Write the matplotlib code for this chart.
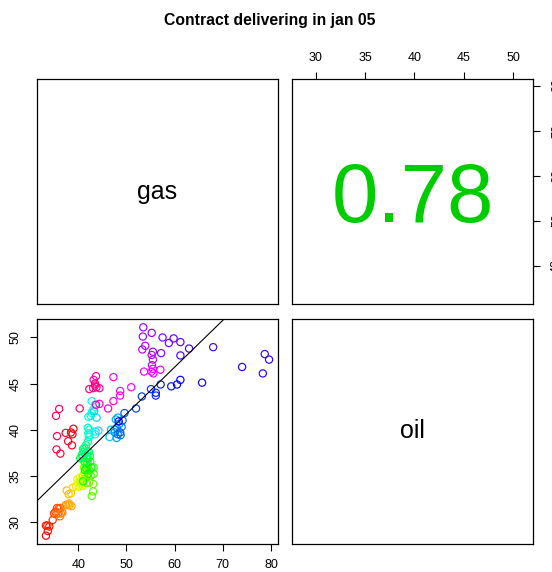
import numpy as np
import matplotlib
matplotlib.use("Agg")
import matplotlib.pyplot as plt
from matplotlib.colors import hsv_to_rgb

plt.rcParams['font.family'] = ['Liberation Sans', 'DejaVu Sans']

title = "Contract delivering in jan 05"
var_names = ["gas", "oil"]
corr_text = "0.78"

gas = [
    33.3, 33.7, 33.3, 34.0, 33.6,
    34.7, 35.0, 35.3, 35.6, 35.9, 36.3, 35.9, 35.4, 36.2,
    36.7, 36.4, 37.4, 37.8, 38.2, 38.6, 38.1,
    37.6, 38.0, 38.5, 38.9, 39.5, 39.8,
    40.0, 40.2, 40.5, 40.3, 40.8, 40.6, 40.1, 40.9, 41.1, 40.4,
    41.0, 41.3, 41.5, 41.8, 41.2, 41.5, 42.0, 41.8, 42.3, 43.1, 43.1, 42.8, 42.6, 43.2,
    43.2, 42.3, 41.9, 42.5, 41.6, 41.0, 41.4, 42.1, 42.7, 41.7, 42.0, 41.3, 42.4, 41.9,
    40.4, 40.8, 41.1, 41.3, 41.6, 41.9, 42.2, 40.9, 41.0, 41.5, 42.0, 42.2,
    42.1, 42.0, 42.3, 42.6, 42.1, 42.8, 43.0, 42.8, 43.5, 42.3,
    43.5, 43.6, 44.2, 43.8, 43.3, 46.5, 46.8, 47.5, 47.8, 48.2, 48.0,
    47.6, 48.0, 48.5, 49.0, 48.8, 48.2, 49.2, 48.7, 49.6, 52.0, 53.2, 55.1, 56.1, 56.1,
    57.1, 59.3, 60.5, 61.2, 65.7, 48.4,
    74.0, 78.3, 79.6, 78.7, 68.0,
    63.0, 61.2, 61.2, 59.8, 58.8, 57.5, 57.2, 55.25, 55.5, 53.5, 53.4, 53.9, 53.3,
    55.25, 55.5, 55.3, 55.5, 55.6, 57.05, 53.65, 55.2,
    51.0, 48.7, 48.7, 47.3, 47.3, 46.2, 44.4, 43.7, 44.4,
    43.7, 43.2, 43.5, 43.1, 42.3, 43.8, 43.5, 40.3,
    35.4, 36.05, 35.6, 35.5, 36.3, 37.4, 37.9, 38.7, 38.8, 39.0, 38.5,
]
oil = [
    28.5, 29.0, 29.6, 29.5, 29.6,
    30.2, 30.9, 31.1, 31.5, 31.4, 31.5, 31.0, 30.8, 30.6,
    31.0, 30.9, 31.8, 31.9, 31.8, 31.7, 32.0,
    33.4, 33.0, 33.1, 33.7, 33.9, 34.6,
    34.3, 34.0, 33.9, 34.8, 34.5, 34.2, 33.8, 33.9, 34.6, 34.4,
    35.0, 35.3, 34.7, 35.5, 35.9, 36.3, 36.0, 34.2, 34.3, 34.1, 33.3, 32.8, 35.0, 35.2,
    35.9, 35.6, 36.4, 36.5, 35.8, 34.4, 35.6, 35.2, 35.9, 36.9, 36.8, 36.5, 37.1, 37.2,
    36.9, 37.3, 37.6, 38.0, 38.3, 37.7, 37.6, 37.0, 37.9, 37.4, 38.7, 39.2,
    39.6, 40.2, 40.0, 41.5, 41.4, 41.8, 42.1, 43.1, 42.7, 39.4,
    39.5, 39.8, 39.9, 41.3, 42.0, 39.2, 40.0, 40.0, 41.1, 41.3, 39.1,
    39.7, 40.2, 40.6, 40.3, 39.4, 39.5, 41.0, 39.7, 41.8, 42.3, 43.6, 44.4, 43.7, 44.0,
    44.9, 44.7, 44.9, 45.4, 45.1, 40.9,
    46.8, 46.1, 47.6, 48.2, 48.95,
    48.8, 48.05, 49.5, 49.9, 49.4, 50.0, 48.3, 50.5, 48.45, 51.1, 50.1, 49.1, 48.7,
    48.1, 47.6, 47.0, 46.6, 46.1, 46.5, 46.3, 46.3,
    44.6, 44.2, 43.7, 45.7, 43.1, 42.3, 42.8, 42.7, 44.5,
    45.8, 45.4, 44.8, 44.5, 44.4, 44.6, 45.0, 42.3,
    41.5, 42.25, 39.3, 37.85, 37.4, 39.65, 38.75, 38.3, 39.5, 40.1, 39.7,
]

# fitted line: oil = intercept + slope * gas
line_intercept = [16.30]
line_slope = [0.508]

gas_ticks = [40, 50, 60, 70, 80]
oil_ticks = [30, 35, 40, 45, 50]

gas_a = np.array(gas)
oil_a = np.array(oil)
n = len(gas_a)
cols = hsv_to_rgb(np.column_stack([np.arange(n) / n, np.ones(n), np.ones(n)]))


def rng(v):
    lo, hi = v.min(), v.max()
    p = 0.04 * (hi - lo)
    return lo - p, hi + p


glim = rng(gas_a)
olim = rng(oil_a)

W, H = 552, 572
fig = plt.figure(figsize=(W / 100, H / 100), dpi=100)

def ax_at(x0, y0, x1, y1):
    return fig.add_axes([x0 / W, 1 - y1 / H, (x1 - x0) / W, (y1 - y0) / H])

ax11 = ax_at(37, 79, 278, 304)
ax12 = ax_at(292, 79, 533, 304)
ax21 = ax_at(37, 319, 278, 544)
ax22 = ax_at(292, 319, 533, 544)

for ax in (ax11, ax12, ax21, ax22):
    for s in ax.spines.values():
        s.set_linewidth(0.9)
        s.set_color('black')
    ax.tick_params(length=5, width=0.8, labelsize=9, pad=6)
    ax.set_xticks([])
    ax.set_yticks([])

# diagonal labels
ax11.set_xlim(0, 1); ax11.set_ylim(0, 1)
ax11.text(0.5, 0.5, var_names[0], ha='center', va='center', fontsize=18)
ax22.set_xlim(0, 1); ax22.set_ylim(0, 1)
ax22.text(0.5, 0.5, var_names[1], ha='center', va='center', fontsize=18)

# upper panel: correlation
ax12.set_xlim(*olim)
ax12.set_ylim(*glim)
ax12.xaxis.tick_top()
ax12.set_xticks(oil_ticks)
ax12.yaxis.tick_right()
ax12.set_yticks(gas_ticks)
ax12.set_yticklabels([str(t) for t in gas_ticks], rotation=90, va='center')
ax12.tick_params(axis='y', pad=8)
ax12.text(0.5, (304 - 221.7) / 225, corr_text, transform=ax12.transAxes, ha='center',
          va='baseline', fontsize=60, color='#00CD00')

# lower panel: scatter
ax21.set_xlim(*glim)
ax21.set_ylim(*olim)
ax21.scatter(gas_a, oil_a, s=27, facecolors='none', edgecolors=cols, linewidths=0.85)
xx = np.array(glim)
ax21.plot(xx, line_intercept[0] + line_slope[0] * xx, color='black', lw=0.8)
ax21.set_xlim(*glim)
ax21.set_ylim(*olim)
ax21.set_xticks(gas_ticks)
ax21.set_yticks(oil_ticks)
ax21.set_yticklabels([str(t) for t in oil_ticks], rotation=90, va='center')

fig.text(270 / W, 1 - 20 / H, title, ha='center', va='center', fontsize=11.3, fontweight='bold')

fig.savefig("out.png", dpi=100)
